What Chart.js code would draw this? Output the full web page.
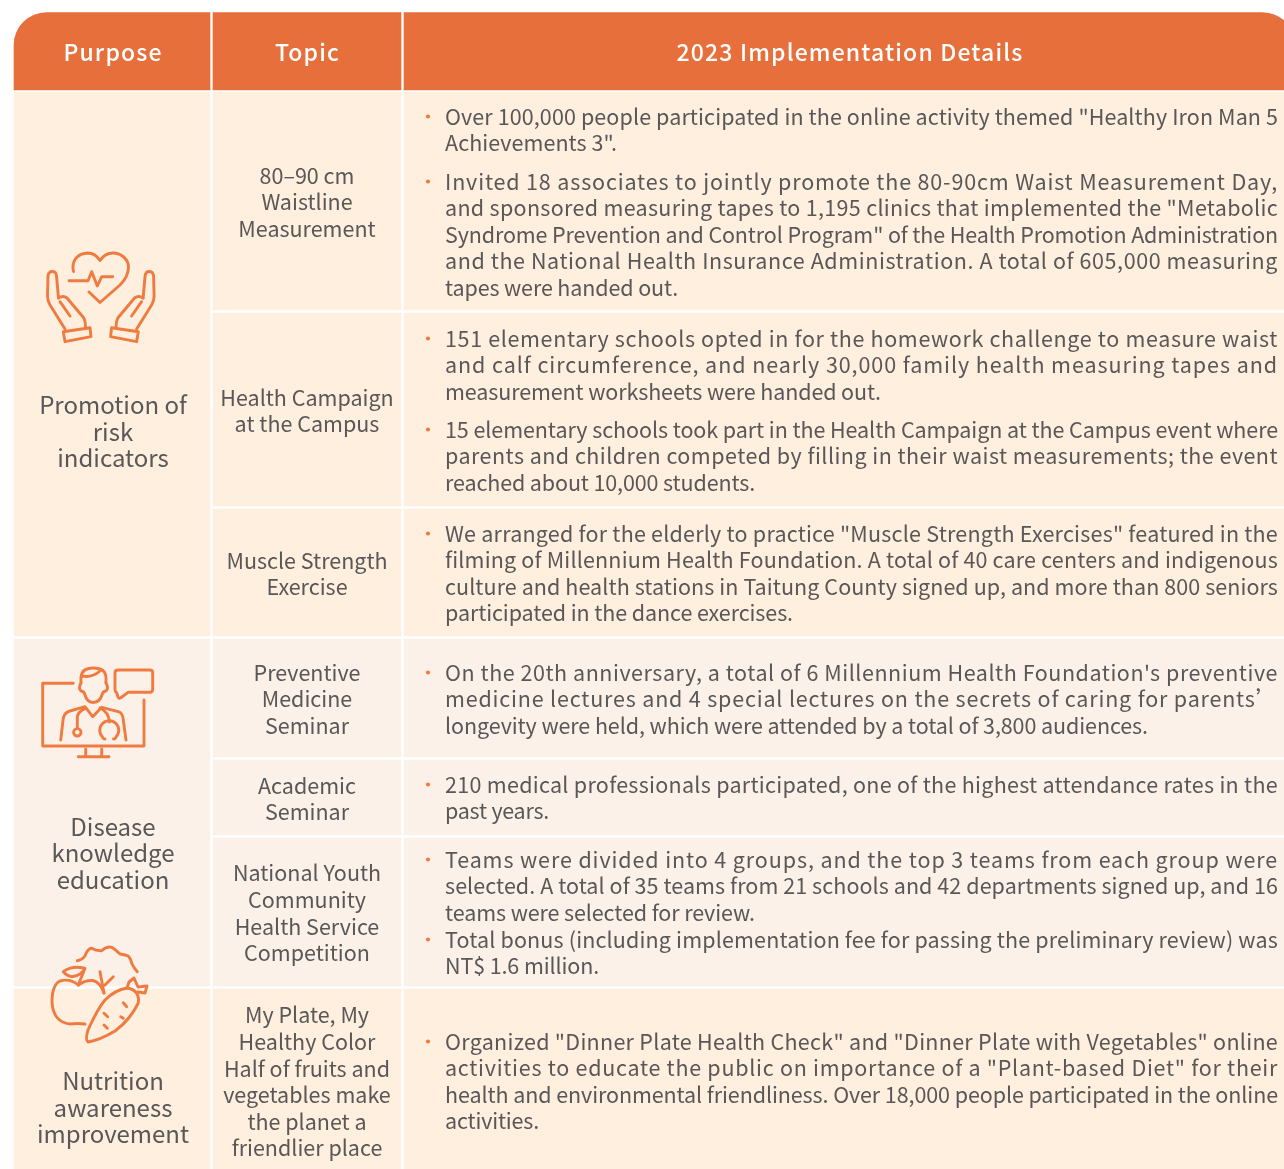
<!DOCTYPE html>
<html>
<head>
<meta charset="utf-8">
<title>2023 Implementation Details</title>
<script src="https://cdn.jsdelivr.net/npm/chart.js@4"></script>
<style>
  html, body { margin: 0; padding: 0; background: #fff; overflow: hidden; }
  canvas { display: block; }
</style>
</head>
<body>
<canvas id="table" width="1284" height="1169"></canvas>
<script>
'use strict';
// table content
var columnTitles = ['Purpose', 'Topic', '2023 Implementation Details'];
var purposeLabels = [
  ['Promotion of', 'risk', 'indicators'],
  ['Disease', 'knowledge', 'education'],
  ['Nutrition', 'awareness', 'improvement']
];
var topicLabels = [
  ['80–90 cm', 'Waistline', 'Measurement'],
  ['Health Campaign', 'at the Campus'],
  ['Muscle Strength', 'Exercise'],
  ['Preventive', 'Medicine', 'Seminar'],
  ['Academic', 'Seminar'],
  ['National Youth', 'Community', 'Health Service', 'Competition'],
  ['My Plate, My', 'Healthy Color', 'Half of fruits and', 'vegetables make', 'the planet a', 'friendlier place']
];
var detailParagraphs = [
  ['Over 100,000 people participated in the online activity themed "Healthy Iron Man 5', 'Achievements 3".'],
  ['Invited 18 associates to jointly promote the 80-90cm Waist Measurement Day,', 'and sponsored measuring tapes to 1,195 clinics that implemented the "Metabolic', 'Syndrome Prevention and Control Program" of the Health Promotion Administration', 'and the National Health Insurance Administration. A total of 605,000 measuring', 'tapes were handed out.'],
  ['151 elementary schools opted in for the homework challenge to measure waist', 'and calf circumference, and nearly 30,000 family health measuring tapes and', 'measurement worksheets were handed out.'],
  ['15 elementary schools took part in the Health Campaign at the Campus event where', 'parents and children competed by filling in their waist measurements; the event', 'reached about 10,000 students.'],
  ['We arranged for the elderly to practice "Muscle Strength Exercises" featured in the', 'filming of Millennium Health Foundation. A total of 40 care centers and indigenous', 'culture and health stations in Taitung County signed up, and more than 800 seniors', 'participated in the dance exercises.'],
  ['On the 20th anniversary, a total of 6 Millennium Health Foundation\'s preventive', 'medicine lectures and 4 special lectures on the secrets of caring for parents’', 'longevity were held, which were attended by a total of 3,800 audiences.'],
  ['210 medical professionals participated, one of the highest attendance rates in the', 'past years.'],
  ['Teams were divided into 4 groups, and the top 3 teams from each group were', 'selected. A total of 35 teams from 21 schools and 42 departments signed up, and 16', 'teams were selected for review.'],
  ['Total bonus (including implementation fee for passing the preliminary review) was', 'NT$ 1.6 million.'],
  ['Organized "Dinner Plate Health Check" and "Dinner Plate with Vegetables" online', 'activities to educate the public on importance of a "Plant-based Diet" for their', 'health and environmental friendliness. Over 18,000 people participated in the online', 'activities.']
];

// table structure, in picture units
var columnSpans = [[14, 210], [213, 401], [404, 1295]];
var headerSpan = [12.5, 90];
var purposeSpans = [[92, 636], [639, 986], [989, 1172]];
var topicSpans = [[92, 310], [313, 506], [509, 636], [639, 757], [760, 835], [838, 986], [989, 1172]];
var topicGroups = [0, 0, 0, 1, 1, 1, 2];
var purposeMiddles = [431.6, 853, 1107.6];
var paragraphTops = [116.5, 181.5, 338.5, 429.5, 533.5, 672.5, 784.5, 859.5, 939.5, 1041.5];
var paragraphEnds = [617, 678, 881, 755, 793, 1148, 549, 755, 599, 539];

var ORANGE = '#e66f3b';
var ICON = '#ef7b40';
var GROUP_FILLS = ['#feefdf', '#fcf1e9', '#feefdf'];
var TEXT = '#595757';
var FONT = '"Noto Sans CJK TC", "Noto Sans", sans-serif';
var LINE = 26.6;

function cellBar(column, span) {
  return { x: (columnSpans[column][0] + columnSpans[column][1]) / 2, y: span };
}

function columnDataset(column, spans, fills) {
  return {
    label: columnTitles[column],
    data: [cellBar(column, headerSpan)].concat(spans.map(function(s) { return cellBar(column, s); })),
    backgroundColor: [ORANGE].concat(fills),
    barThickness: columnSpans[column][1] - columnSpans[column][0],
    borderSkipped: false,
    borderWidth: 0,
    grouped: false,
    borderRadius: function(ctx) {
      if (ctx.dataIndex !== 0 || column === 1) { return 0; }
      return column === 0 ? { topLeft: 33, topRight: 0, bottomLeft: 0, bottomRight: 0 }
        : { topLeft: 0, topRight: 33, bottomLeft: 0, bottomRight: 0 };
    }
  };
}

var tableText = {
  id: 'tableText',
  afterDatasetsDraw: function(chart) {
    var ctx = chart.ctx;
    var sx = chart.scales.x;
    var sy = chart.scales.y;
    ctx.save();
    ctx.textBaseline = 'middle';

    // header
    ctx.fillStyle = '#fff';
    ctx.font = '500 23px ' + FONT;
    ctx.textAlign = 'center';
    ctx.letterSpacing = '1.15px';
    var headerX = [113, 307.5, 850];
    columnTitles.forEach(function(t, i) {
      ctx.fillText(t, sx.getPixelForValue(headerX[i]), sy.getPixelForValue(52.5));
    });
    ctx.letterSpacing = '0px';

    // first column
    ctx.fillStyle = TEXT;
    ctx.font = '24px ' + FONT;
    purposeLabels.forEach(function(lines, i) {
      lines.forEach(function(t, j) {
        var y = purposeMiddles[i] + (j - (lines.length - 1) / 2) * LINE;
        ctx.fillText(t, sx.getPixelForValue(113), sy.getPixelForValue(y));
      });
    });

    // second column
    ctx.font = '21.5px ' + FONT;
    topicLabels.forEach(function(lines, i) {
      var middle = (topicSpans[i][0] + Math.min(topicSpans[i][1], 1172)) / 2 + 1.2;
      lines.forEach(function(t, j) {
        var y = middle + (j - (lines.length - 1) / 2) * LINE;
        ctx.fillText(t, sx.getPixelForValue(307), sy.getPixelForValue(y));
      });
    });

    // third column, every line fitted to its measure
    ctx.textAlign = 'left';
    detailParagraphs.forEach(function(lines, i) {
      ctx.fillStyle = ICON;
      ctx.beginPath();
      ctx.arc(sx.getPixelForValue(428), sy.getPixelForValue(paragraphTops[i]), 2.1, 0, Math.PI * 2);
      ctx.fill();
      ctx.fillStyle = TEXT;
      lines.forEach(function(t, j) {
        var end = j === lines.length - 1 ? paragraphEnds[i] : 1278;
        ctx.letterSpacing = '0px';
        var w = ctx.measureText(t).width;
        ctx.letterSpacing = ((end - 445 - w) / t.length).toFixed(3) + 'px';
        ctx.fillText(t, sx.getPixelForValue(445), sy.getPixelForValue(paragraphTops[i] + j * LINE));
      });
    });
    ctx.letterSpacing = '0px';
    ctx.restore();
  }
};

// line icons in the first column
var heartPaths = [
  'M73.5 271.5C71 260 78 253.5 88 253C93 253 97 256 100 260.5C103 256 108 253 113 253C122 253 128.5 260 128.5 267C128.5 274 124 281 120 285L100 302.5L89 292',
  'M69 280.7L88 280.7L91.7 271.7L97.3 286L101.7 276.7L112.7 276.7'
];
var handPaths = [
  'M63.3 331.7L90 327.7L91 336.7L65 341.7Z',
  'M65 329L50 305Q47.5 301 47.5 296L48 276Q48.5 271.5 52.5 271.5Q56 271.5 56.5 276L58.5 298',
  'M58.5 298Q63 295 67 298L83 317Q85.5 320 85.5 327',
  'M60 301.7L70 316'
];
var doctorPaths = [
  'M73.3 683.3L42.7 683.3L42.7 746L144 746L144 700',
  'M85.7 749V756M101.7 749V756M78.3 756.7H109',
  'M118 670H150Q152.7 670 152.7 673V689Q152.7 692.3 150 692.3L128 692.3L120.5 698Q118.5 699 118 697L116.5 692.3Q115 692 115 689V673Q115 670 118 670Z',
  'M81 683Q78 688 81 691Q84 691 85 695Q87 702 93 702.5Q100 702 102 695Q103 691 106 691Q109 688 106 683',
  'M81 683V677Q82 668 93 668Q106 668 106 678V683M82 676Q92 678 100 671',
  'M60.7 740L63.3 718Q65 712 70 711L85 706.7L92.7 716.7L101.7 707.3L118.3 711.7Q123 713 123.3 720L126 740',
  'M85 708.7Q77.3 712 77.3 718V728',
  'M100 708Q109 712 109.3 722',
  'M105 739Q103 739 102.5 737A9.5 9.5 0 1 1 116 737Q115.5 739 113.5 739',
  'M81 732.3A3.7 3.7 0 1 1 73.6 732.3A3.7 3.7 0 1 1 81 732.3Z'
];
var foodPaths = [
  'M77.3 960.7Q82 960 85 956Q88 948 91.7 948.3Q96 951 101.7 950.7Q107 946 111.7 947.3Q116 950 120 954Q126 955 128.3 956Q131 959 131.7 963.3Q134 968 137.3 971.7',
  'M100 971.7L104 993M113.3 976.7L105 985',
  'M78.3 985Q70 978 60 981Q52 985 52 1002Q53 1022 70 1024Q77 1023 85 1024',
  'M78.3 985Q85 980 93 980.5Q100 982 104 993',
  'M63.3 971.7Q72 965 85 968.3Q82 975 72 976.7Q67 976 63.3 971.7ZM78.3 985L85 968.3',
  'M88 1042Q85 1040 88 1030Q98 1008 105 1000Q115 990 127 988Q140 990 138.3 1003Q130 1020 115 1031Q100 1040 88 1042Z',
  'M127 988L129 982L134 978L138 987L147 986L145 993L138 992',
  'M104 1013.3L107.7 1016.7M104 1025L107.3 1028.3M123.3 1002.7L126.7 1006.7M120.7 1016.7L123.3 1018.3'
];

var tableIcons = {
  id: 'tableIcons',
  afterDatasetsDraw: function(chart) {
    var ctx = chart.ctx;
    ctx.save();
    ctx.strokeStyle = ICON;
    ctx.lineWidth = 2.9;
    ctx.lineCap = 'round';
    ctx.lineJoin = 'round';
    function stroke(p) { ctx.stroke(new Path2D(p)); }
    heartPaths.forEach(stroke);
    handPaths.forEach(stroke);
    ctx.save();
    ctx.translate(201.6, 0);
    ctx.scale(-1, 1);
    handPaths.forEach(stroke);
    ctx.restore();
    doctorPaths.forEach(stroke);
    foodPaths.forEach(stroke);
    ctx.restore();
  }
};

var purposeFills = GROUP_FILLS;
var topicFills = topicGroups.map(function(g) { return GROUP_FILLS[g]; });

new Chart(document.getElementById('table'), {
  type: 'bar',
  data: {
    datasets: [
      columnDataset(0, purposeSpans, purposeFills),
      columnDataset(1, topicSpans, topicFills),
      columnDataset(2, topicSpans, topicFills)
    ]
  },
  options: {
    responsive: false,
    animation: false,
    events: [],
    layout: { padding: 0 },
    scales: {
      x: { type: 'linear', min: 0, max: 1284, display: false, offset: false },
      y: { type: 'linear', min: 0, max: 1169, reverse: true, display: false, offset: false }
    },
    plugins: { legend: { display: false }, tooltip: { enabled: false } }
  },
  plugins: [tableIcons, tableText]
});
</script>
</body>
</html>
